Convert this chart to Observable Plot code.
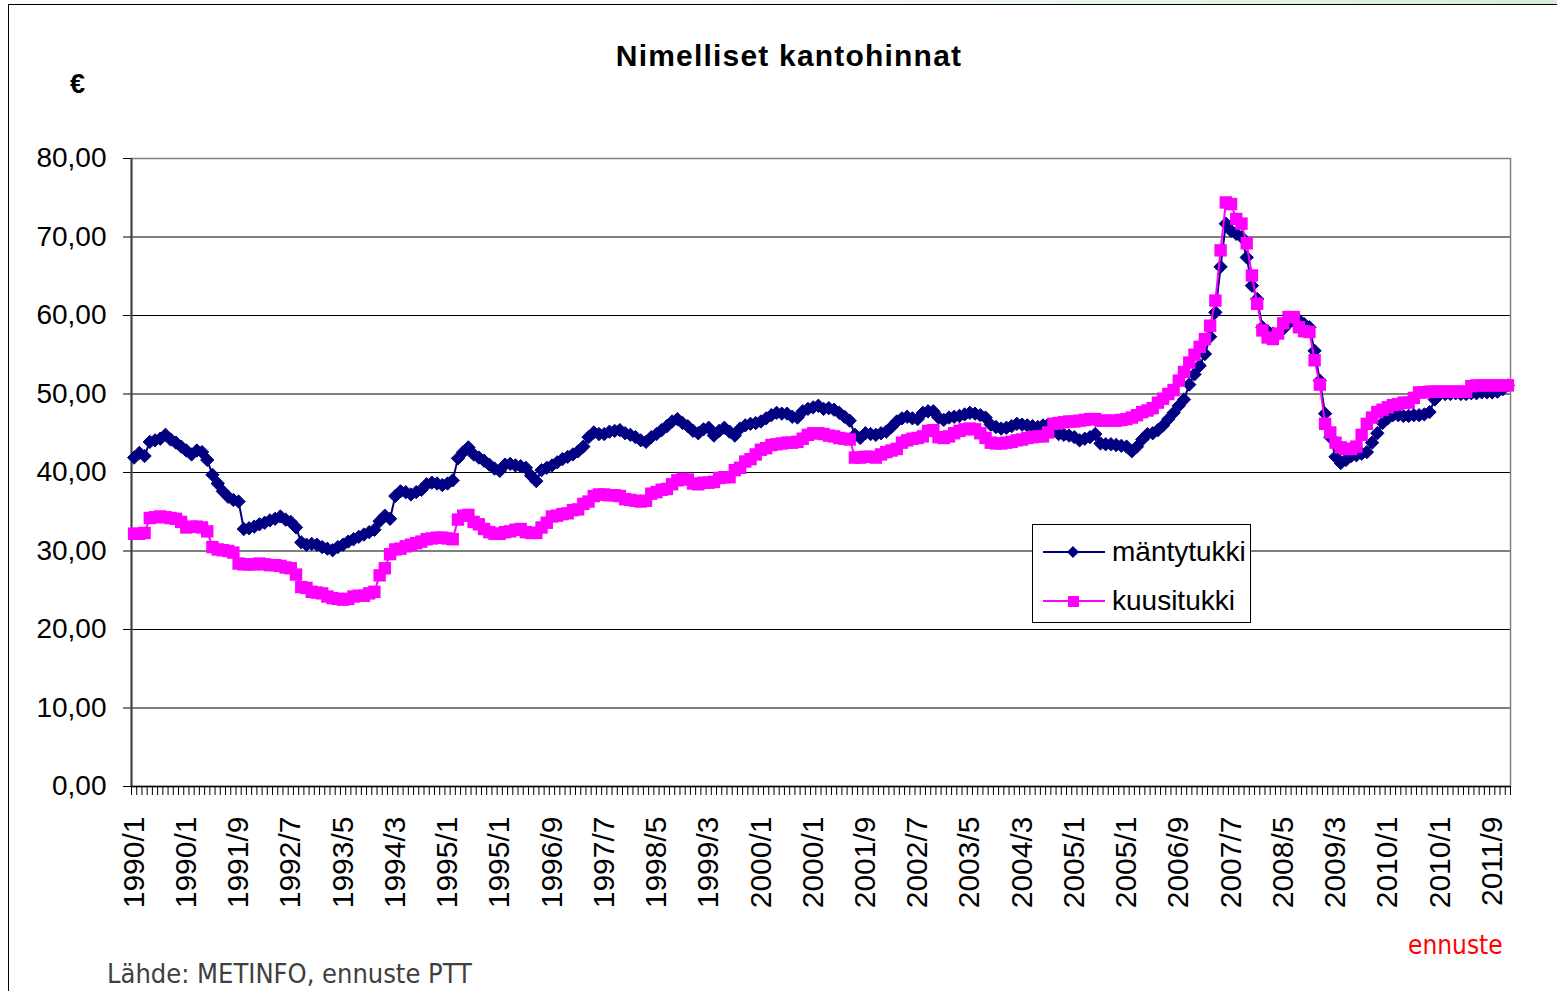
<!DOCTYPE html>
<html><head><meta charset="utf-8">
<script src="https://cdn.jsdelivr.net/npm/d3@7"></script>
<script src="https://cdn.jsdelivr.net/npm/@observablehq/plot@0.6"></script>
<style>
body{margin:0;background:#fff;}
#wrap{position:relative;width:1557px;height:991px;overflow:hidden;font-family:"Liberation Sans",Arial,sans-serif;background:#fff;}
#topstrip{position:absolute;left:0;top:0;width:1557px;height:4px;background:linear-gradient(to right,#ffffff 0%,#ffffff 40%,#d6ecd6 100%);}
#frameL{position:absolute;left:8px;top:4px;width:1px;height:987px;background:#000;}
#frameT{position:absolute;left:8px;top:4px;width:1549px;height:1px;background:#000;}
#chart{position:absolute;left:0;top:0;}
#title{position:absolute;left:0;width:1578px;top:41px;text-align:center;font-weight:bold;font-size:30px;line-height:1;letter-spacing:1.2px;}
#unit{position:absolute;left:70px;top:71px;font-weight:bold;font-size:27px;line-height:1;}
#legend{position:absolute;left:1032px;top:524px;width:217px;height:97px;border:1px solid #000;background:#fff;}
#legend .row{position:absolute;left:0;height:30px;width:217px;}
#legend svg{position:absolute;left:0;top:0;}
#legend .lab{position:absolute;left:79px;top:0;font-size:28px;line-height:30px;}
#ennuste{position:absolute;left:1408px;top:932px;font-family:"DejaVu Sans Condensed","DejaVu Sans",sans-serif;font-size:26px;line-height:1;color:#ff0000;}
#source{position:absolute;left:107px;top:960px;font-family:"DejaVu Sans Condensed","DejaVu Sans",sans-serif;font-size:27px;line-height:1;color:#404040;}
</style></head><body>
<div id="wrap">
 <div id="topstrip"></div>
 <div id="frameL"></div><div id="frameT"></div>
 <div id="chart"></div>
 <div id="title"></div>
 <div id="unit"></div>
 <div id="legend"></div>
 <div id="ennuste"></div>
 <div id="source"></div>
</div>
<script>
const titleText = "Nimelliset kantohinnat";
const unitText = "€";
const sourceText = "Lähde: METINFO, ennuste PTT";
const forecastText = "ennuste";
const seriesNames = ["mäntytukki", "kuusitukki"];
const seriesColors = ["#000080", "#FF00FF"];
const yTicks = [0, 10, 20, 30, 40, 50, 60, 70, 80];
const tickLabels = ["1990/1","1990/1","1991/9","1992/7","1993/5","1994/3","1995/1","1995/1","1996/9","1997/7","1998/5","1999/3","2000/1","2000/1","2001/9","2002/7","2003/5","2004/3","2005/1","2005/1","2006/9","2007/7","2008/5","2009/3","2010/1","2010/1","2011/9"];

const mantytukki = [
41.9,42.5,42.1,43.9,44.1,44.3,44.8,44.2,43.8,43.3,
42.8,42.3,42.8,42.6,41.6,39.7,38.6,37.6,36.9,36.5,
36.3,32.8,32.9,33.1,33.4,33.6,33.9,34.1,34.4,34.0,
33.7,33.0,31.1,30.8,30.9,30.8,30.5,30.3,30.1,30.5,
30.8,31.2,31.5,31.8,32.1,32.4,32.7,33.8,34.5,34.1,
37.0,37.6,37.5,37.2,37.5,37.8,38.5,38.7,38.6,38.4,
38.6,39.0,41.8,42.6,43.2,42.3,41.9,41.5,41.0,40.5,
40.2,41.0,41.1,40.9,40.8,40.6,39.6,38.9,40.3,40.6,
40.9,41.3,41.7,42.0,42.3,42.7,43.3,44.5,45.1,44.9,
44.9,45.2,45.3,45.4,45.0,44.8,44.5,44.1,43.9,44.5,
44.9,45.4,45.9,46.5,46.8,46.3,45.9,45.3,45.0,45.5,
45.7,44.7,45.3,45.7,45.2,44.7,45.6,46.0,46.2,46.3,
46.5,46.9,47.3,47.6,47.5,47.5,47.1,47.0,47.8,48.1,
48.3,48.5,48.1,48.2,48.0,47.6,47.1,46.6,44.8,44.4,
45.0,44.9,44.8,45.0,45.2,45.8,46.5,46.9,47.1,46.9,
46.8,47.6,47.8,47.8,47.0,46.7,47.0,47.1,47.2,47.4,
47.6,47.5,47.3,47.0,46.1,45.8,45.6,45.7,45.9,46.2,
46.1,46.0,45.9,45.8,46.0,46.1,45.3,44.9,44.8,44.7,
44.5,44.1,44.3,44.5,44.9,43.7,43.6,43.6,43.5,43.4,
43.3,42.7,43.3,44.2,44.9,45.0,45.4,46.0,46.8,47.6,
48.5,49.3,51.2,52.5,53.6,55.1,57.3,60.4,66.2,71.7,
70.8,70.4,70.0,67.4,63.8,62.1,58.5,58.0,57.7,57.7,
58.3,59.0,59.3,59.4,58.9,58.5,55.5,51.7,47.5,44.5,
42.0,41.2,41.6,42.1,42.2,42.4,42.6,43.8,45.0,46.3,
46.9,47.3,47.3,47.2,47.2,47.3,47.3,47.4,47.7,49.3,
50.0,50.0,50.0,50.1,50.0,50.0,50.1,50.1,50.2,50.2,
50.2,50.3,50.6,51.1
];

const kuusitukki = [
32.2,32.2,32.3,34.2,34.3,34.4,34.3,34.2,34.1,33.7,
33.0,33.1,33.1,33.0,32.5,30.5,30.2,30.1,30.0,29.8,
28.4,28.3,28.3,28.3,28.4,28.3,28.2,28.2,28.1,27.9,
27.8,27.0,25.4,25.3,24.8,24.7,24.6,24.2,24.0,23.9,
23.8,23.9,24.2,24.3,24.3,24.6,24.8,26.9,27.8,29.6,
30.2,30.3,30.6,30.8,31.0,31.2,31.5,31.6,31.7,31.7,
31.6,31.5,34.0,34.5,34.6,33.7,33.4,32.8,32.4,32.2,
32.2,32.4,32.5,32.7,32.8,32.4,32.3,32.3,33.0,33.6,
34.4,34.5,34.7,34.8,35.2,35.3,36.0,36.3,37.0,37.2,
37.2,37.1,37.1,37.0,36.6,36.5,36.4,36.3,36.4,37.3,
37.5,37.8,37.9,38.5,39.0,39.2,39.1,38.6,38.5,38.7,
38.7,38.8,39.3,39.4,39.4,40.3,40.6,41.4,41.7,42.3,
42.9,43.1,43.5,43.6,43.7,43.8,43.8,43.9,44.3,44.8,
45.0,45.0,44.9,44.7,44.6,44.4,44.3,44.2,41.9,41.9,
42.0,42.0,41.9,42.3,42.6,42.8,43.0,43.8,44.1,44.3,
44.4,44.6,45.3,45.4,44.5,44.4,44.6,45.0,45.3,45.5,
45.6,45.5,45.0,44.4,43.8,43.7,43.7,43.8,43.9,44.1,
44.2,44.4,44.5,44.6,44.6,45.1,46.2,46.3,46.4,46.5,
46.5,46.6,46.7,46.8,46.8,46.6,46.6,46.6,46.6,46.7,
46.8,47.0,47.3,47.7,47.9,48.2,48.9,49.4,50.0,50.5,
51.7,52.8,54.0,55.0,56.0,57.0,58.7,61.9,68.3,74.4,
74.2,72.3,71.7,69.2,65.1,61.5,58.1,57.2,57.0,57.7,
59.0,59.8,59.8,58.5,58.0,57.9,54.3,51.2,46.2,45.1,
43.8,43.2,43.0,43.0,43.3,44.8,46.2,47.0,47.7,48.0,
48.3,48.6,48.7,48.9,48.9,49.5,50.2,50.2,50.3,50.3,
50.3,50.3,50.3,50.3,50.3,50.3,51.0,51.1,51.1,51.1,
51.1,51.1,51.1,51.1
];

const n = mantytukki.length;
const pine = mantytukki.map((v, i) => ({i, v}));
const spruce = kuusitukki.map((v, i) => ({i, v}));
const fmt = d => d.toFixed(2).replace(".", ",");

const chart = Plot.plot({
  width: 1557, height: 991,
  marginLeft: 131, marginRight: 47, marginTop: 158, marginBottom: 205,
  style: {fontFamily: "Liberation Sans, Arial, sans-serif", fontSize: "28px", background: "transparent", color: "#000", overflow: "visible"},
  x: {type: "linear", domain: [-0.5, n - 0.5], label: null},
  y: {domain: [0, 80], label: null},
  marks: [
    Plot.ruleY(yTicks.filter(d => d > 0 && d < 80), {stroke: "#000", strokeWidth: 1}),
    Plot.frame({stroke: "#808080", strokeWidth: 1.5}),
    Plot.axisY(yTicks, {tickSize: 8, tickPadding: 17, tickFormat: fmt, fontSize: 28, stroke: "#000", label: null}),
    Plot.axisX(d3.range(n + 1).map(k => k - 0.5), {tickSize: 9, tickFormat: () => "", stroke: "#000", label: null}),
    Plot.axisX(d3.range(0, n, 10), {tickSize: 0, tickPadding: 30, tickRotate: -90, tickFormat: i => tickLabels[i / 10], fontSize: 30, label: null}),
    Plot.ruleX([-0.5], {stroke: "#404040", strokeWidth: 2}),
    Plot.ruleY([0], {stroke: "#000", strokeWidth: 1.5}),
    Plot.line(pine, {x: "i", y: "v", stroke: seriesColors[0], strokeWidth: 2}),
    Plot.dot(pine, {x: "i", y: "v", symbol: "diamond2", r: 6, fill: seriesColors[0], stroke: seriesColors[0], strokeWidth: 1}),
    Plot.line(spruce, {x: "i", y: "v", stroke: seriesColors[1], strokeWidth: 2}),
    Plot.dot(spruce, {x: "i", y: "v", symbol: "square", r: 7, fill: seriesColors[1], stroke: "none"})
  ]
});
document.getElementById("chart").appendChild(chart);

document.getElementById("title").textContent = titleText;
document.getElementById("unit").textContent = unitText;
document.getElementById("source").textContent = sourceText;
document.getElementById("ennuste").textContent = forecastText;

// legend
const legend = document.getElementById("legend");
const ns = "http://www.w3.org/2000/svg";
seriesNames.forEach((name, k) => {
  const row = document.createElement("div");
  row.className = "row";
  row.style.top = (k === 0 ? 12 : 61) + "px";
  const s = document.createElementNS(ns, "svg");
  s.setAttribute("width", 76); s.setAttribute("height", 30);
  const ln = document.createElementNS(ns, "line");
  ln.setAttribute("x1", 10); ln.setAttribute("x2", 72); ln.setAttribute("y1", 15); ln.setAttribute("y2", 15);
  ln.setAttribute("stroke", seriesColors[k]); ln.setAttribute("stroke-width", 2);
  s.appendChild(ln);
  let m;
  if (k === 0) {
    m = document.createElementNS(ns, "polygon");
    m.setAttribute("points", "40,9 46,15 40,21 34,15");
  } else {
    m = document.createElementNS(ns, "rect");
    m.setAttribute("x", 35); m.setAttribute("y", 10); m.setAttribute("width", 11); m.setAttribute("height", 11);
  }
  m.setAttribute("fill", seriesColors[k]);
  s.appendChild(m);
  row.appendChild(s);
  const lab = document.createElement("div");
  lab.className = "lab";
  lab.textContent = name;
  row.appendChild(lab);
  legend.appendChild(row);
});
</script>
</body></html>
